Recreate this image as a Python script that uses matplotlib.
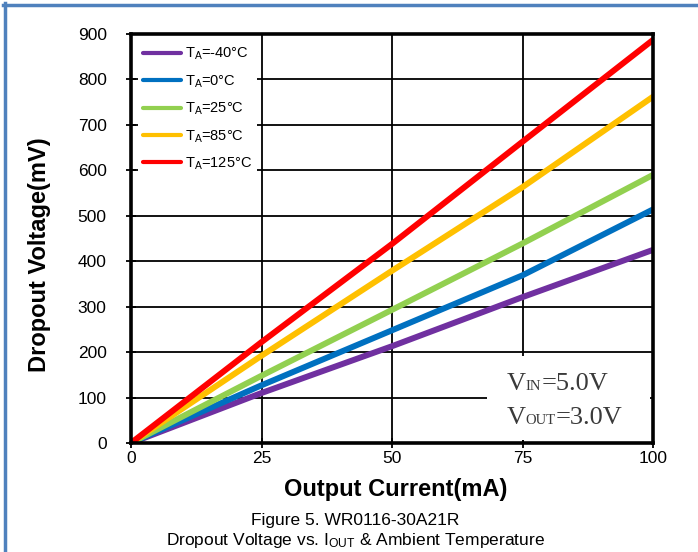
import matplotlib.pyplot as plt
from matplotlib.lines import Line2D
from matplotlib.patches import Rectangle
from matplotlib.offsetbox import TextArea, HPacker, VPacker, AnchoredOffsetbox

plt.rcParams['font.family'] = ['Liberation Sans', 'DejaVu Sans']
plt.rcParams['mathtext.fontset'] = 'custom'
plt.rcParams['mathtext.rm'] = 'Liberation Sans'
plt.rcParams['mathtext.it'] = 'Liberation Sans:italic'
plt.rcParams['mathtext.bf'] = 'Liberation Sans:bold'

# output current (mA)
current = [0, 25, 50, 75, 100]
# dropout voltage (mV) per ambient temperature
v_m40 = [0, 110, 213, 321, 425]
v_0 = [0, 127, 248, 369, 514]
v_25 = [0, 148, 293, 439, 590]
v_85 = [0, 192, 379, 563, 762]
v_125 = [0, 222, 438, 663, 887]

series = [
    (v_m40, r'T$_\mathrm{A}$=-40°C', '#7030A0'),
    (v_0, r'T$_\mathrm{A}$=0°C', '#0070C0'),
    (v_25, r'T$_\mathrm{A}$=25°C', '#92D050'),
    (v_85, r'T$_\mathrm{A}$=85°C', '#FFC000'),
    (v_125, r'T$_\mathrm{A}$=125°C', '#FF0000'),
]
xticks = [0, 25, 50, 75, 100]
yticks = list(range(0, 1000, 100))

fig = plt.figure(figsize=(6.98, 5.52), dpi=100)
ax = fig.add_axes([131/698, 1-443/552, 522/698, 409/552])

for vals, lab, col in series:
    ax.plot(current, vals, color=col, lw=4.3, label=lab, zorder=3,
            solid_capstyle='round')

ax.set_xlim(0, 100)
ax.set_ylim(0, 900)
ax.set_xticks(xticks)
ax.set_yticks(yticks)
ax.grid(True, color='black', lw=1.3)
ax.set_axisbelow(True)
for s in ax.spines.values():
    s.set_linewidth(2.6)
    s.set_zorder(5)
ax.tick_params(axis='y', direction='inout', length=7, width=1.3,
               labelsize=12.5, pad=14)
ax.tick_params(axis='x', direction='inout', length=7, width=1.3,
               labelsize=12.5, pad=2)

ax.set_xlabel('Output Current(mA)', fontsize=17, fontweight='bold')
ax.xaxis.set_label_coords(0.508, -0.085)
ax.set_ylabel('Dropout Voltage(mV)', fontsize=17, fontweight='bold')
ax.yaxis.set_label_coords(-0.153, 0.46)

leg = ax.legend(loc='upper left', bbox_to_anchor=(0, 1), borderaxespad=0.45,
                fontsize=10.5, frameon=True, fancybox=False, framealpha=1,
                edgecolor='none', handlelength=2.6, handletextpad=0.3,
                labelspacing=0.76, borderpad=0.35)
leg.set_zorder(4)
for ln in leg.get_lines():
    ln.set_linewidth(3)

# white box behind the test-condition note
ax.add_patch(Rectangle((0.682, 0.007), 0.312, 0.206, transform=ax.transAxes,
                       facecolor='white', edgecolor='none', zorder=2))

big = dict(fontsize=19, color='#3a3a3a', family='Liberation Serif')
small = dict(fontsize=10.5, color='#3a3a3a', family='Liberation Serif')
row1 = HPacker(children=[TextArea('V', textprops=big),
                         TextArea('IN', textprops=small),
                         TextArea('=5.0V', textprops=big)],
               align='baseline', pad=0, sep=0)
row2 = HPacker(children=[TextArea('V', textprops=big),
                         TextArea('OUT', textprops=small),
                         TextArea('=3.0V', textprops=big)],
               align='baseline', pad=0, sep=0)
note = VPacker(children=[row1, row2], align='left', pad=0, sep=8)
anc = AnchoredOffsetbox(loc='upper left', child=note, pad=0, borderpad=0,
                        frameon=False, bbox_to_anchor=(0.72, 0.17),
                        bbox_transform=ax.transAxes)
anc.set_zorder(6)
ax.add_artist(anc)

fig.text(0.509, 1-520/552, 'Figure 5. WR0116-30A21R', ha='center',
         va='center', fontsize=12.5)
fig.text(0.509, 1-540/552,
         r'Dropout Voltage vs. I$_\mathrm{OUT}$ & Ambient Temperature',
         ha='center', va='center', fontsize=12.5)

# page frame
fig.add_artist(Line2D([3/698, 1], [1-5/552, 1-5/552], color='#4F81BD',
                      lw=2.5, transform=fig.transFigure))
fig.add_artist(Line2D([5/698, 5/698], [0, 1-3/552], color='#4F81BD',
                      lw=2.5, transform=fig.transFigure))

fig.savefig('out.png', dpi=100)
